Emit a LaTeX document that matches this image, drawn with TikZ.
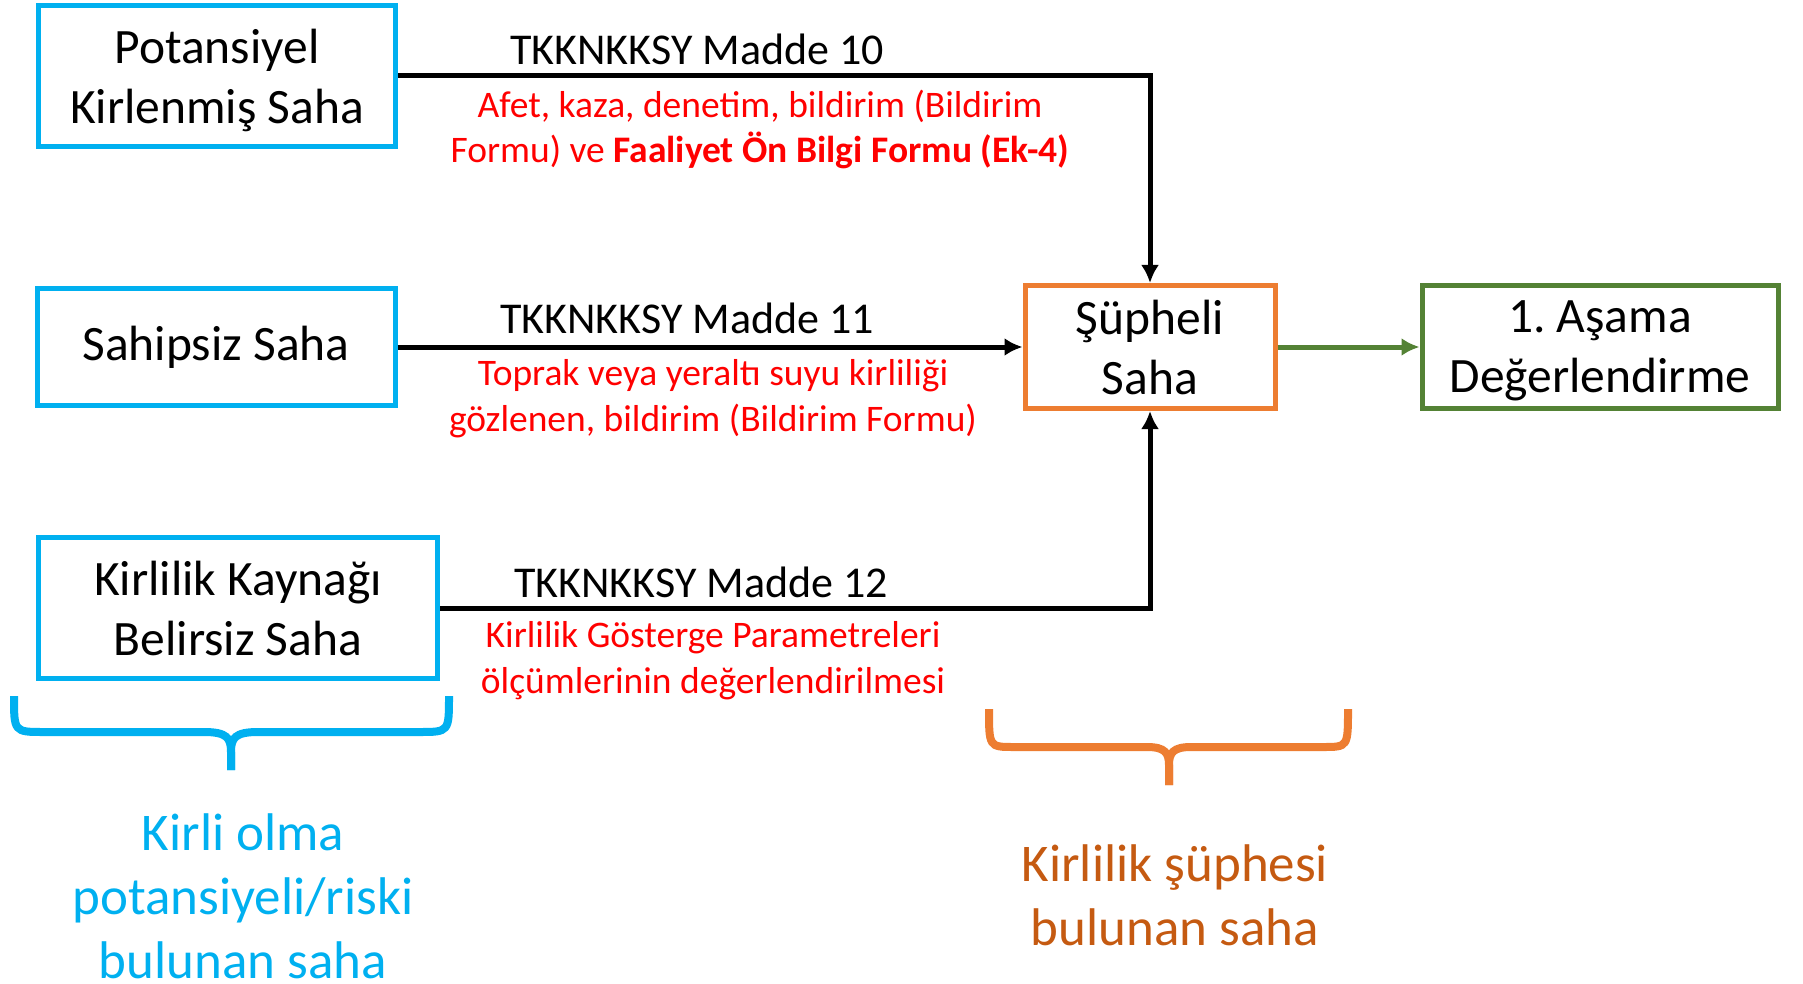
\documentclass[tikz,border=0pt]{standalone}
\usepackage{fontspec}
\setmainfont{Carlito}
\usetikzlibrary{arrows.meta}
\definecolor{mavi}{HTML}{00B0F0}
\definecolor{turuncu}{HTML}{ED7D31}
\definecolor{koyuturuncu}{HTML}{C55A11}
\definecolor{yesil}{HTML}{548235}
\definecolor{kirmizi}{HTML}{FF0000}

\begin{document}
\begin{tikzpicture}[x=1pt, y=-1pt, >={Latex[length=18pt,width=18pt]},
  kutu/.style={draw, line width=5pt, align=center, inner sep=0pt, font=\fontsize{49.5}{60}\selectfont},
  madde/.style={anchor=base, inner sep=0pt, font=\fontsize{44}{53}\selectfont},
  aciklama/.style={anchor=base, align=center, inner sep=0pt, text=kirmizi, font=\fontsize{37.5}{45.5}\selectfont},
  grup/.style={anchor=base, align=center, inner sep=0pt, font=\fontsize{53}{64}\selectfont},
  parantez/.style={line width=8pt}]
\useasboundingbox (0,0) rectangle (1803,984);
\node[kutu, draw=mavi, minimum width=357pt, minimum height=141pt] (pks) at (217,76) {Potansiyel\\\smash{Kirlenmiş Saha}};
\node[kutu, draw=mavi, minimum width=358pt, minimum height=117pt] (ss) at (216,347) {Sahipsiz Saha};
\node[kutu, draw=mavi, minimum width=399pt, minimum height=141pt] (kkbs) at (238,608) {Kirlilik Kaynağı\\Belirsiz Saha};
\node[kutu, draw=turuncu, minimum width=250pt, minimum height=123pt] (sup) at (1150,347) {Şüpheli\\Saha};
\node[kutu, draw=yesil, minimum width=356pt, minimum height=123pt] (asama) at (1600,347) {1.\ Aşama\\\smash{Değerlendirme}};
\draw[->, line width=5pt] (pks.east) -| (sup.north);
\draw[->, line width=5pt] (ss.east) -- (sup.west);
\draw[->, line width=5pt] (kkbs.east) -| (sup.south);
\draw[->, line width=5pt, yesil] (sup.east) -- (asama.west);
\node[madde] (m10) at (697,65) {TKKNKKSY Madde 10};
\node[madde] (m11) at (687,333) {TKKNKKSY Madde 11};
\node[madde] (m12) at (701,597) {TKKNKKSY Madde 12};
\node[aciklama] (a10) at (760,163) {Afet, kaza, denetim, bildirim (Bildirim\\Formu) ve \textbf{Faaliyet Ön Bilgi Formu (Ek-4)}};
\node[aciklama] (a11) at (713,431) {Toprak veya yeraltı suyu kirliliği\\gözlenen, bildirim (Bildirim Formu)};
\node[aciklama] (a12) at (713,693) {Kirlilik Gösterge Parametreleri\\ölçümlerinin değerlendirilmesi};
\draw[parantez, mavi] (14,696) .. controls (14,732) .. (44,732) -- (204,732) .. controls (227,732) and (231,738) .. (231,752) -- (231,770);
\draw[parantez, mavi] (449,696) .. controls (449,732) .. (419,732) -- (258,732) .. controls (235,732) and (231,738) .. (231,752) -- (231,770);
\draw[parantez, turuncu] (989,709) .. controls (989,747) .. (1014,747) -- (1147,747) .. controls (1165,747) and (1169,753) .. (1169,765) -- (1169,785);
\draw[parantez, turuncu] (1348,709) .. controls (1348,747) .. (1323,747) -- (1191,747) .. controls (1173,747) and (1169,753) .. (1169,765) -- (1169,785);
\node[grup, text=mavi] (kirli) at (243,978) {Kirli olma\\potansiyeli/riski\\bulunan saha};
\node[grup, text=koyuturuncu] (suphe) at (1175,945) {Kirlilik şüphesi\\bulunan saha};
\end{tikzpicture}
\end{document}
